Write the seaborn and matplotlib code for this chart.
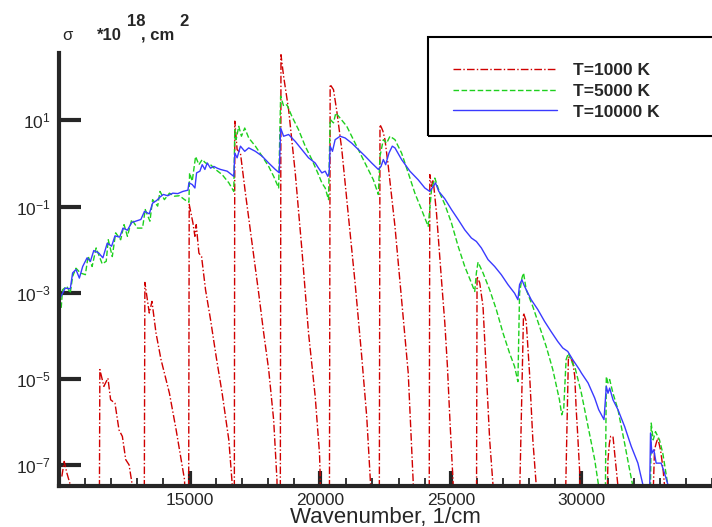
import numpy as np
import pandas as pd
import matplotlib
matplotlib.use("Agg")
import matplotlib.pyplot as plt
import matplotlib.ticker as ticker
from matplotlib.patches import Rectangle
import seaborn as sns

# wavenumber (1/cm) and log10(sigma, 1e-18 cm^2)
wn_1000 = [10109, 10199, 10302, 10431, 10450,
           11540, 11564, 11718, 11873, 11976, 12143, 12297, 12426, 12555, 12683, 12812, 12860,
           13260, 13288, 13456, 13559, 13713, 13906, 14228, 14485, 14807, 14870,
           14960, 14985, 15127, 15203, 15254, 15356, 15458, 15610, 15801, 16017, 16246, 16501, 16628, 16660,
           16710, 16730, 16819, 16946, 17137, 17391, 17645, 17836, 18027, 18218, 18345, 18380,
           18470, 18498, 18599, 18790, 19045, 19299, 19553, 19808, 19973, 20000, 20040,
           20350, 20381, 20509, 20636, 20827, 21081, 21335, 21590, 21781, 21933, 21960,
           22260, 22289, 22353, 22400, 22480, 22607, 22862, 23116, 23370, 23562, 23590,
           24170, 24197, 24261, 24325, 24452, 24643, 24771, 24870, 24962, 25089, 25110,
           25980, 26005, 26107, 26234, 26361, 26488, 26615, 26640,
           27590, 27785, 27887, 28014, 28141, 28269, 28290,
           29350, 29503, 29668, 29746, 29800, 29848, 29937, 29970,
           30940, 31018, 31070, 31120, 31209, 31298, 31400, 31420,
           32680, 32799, 32862, 32926, 33028, 33116, 33180, 33200]
lg_1000 = [-7.26, -6.91, -7.18, -7.45, -9,
           -9, -4.78, -5.17, -4.98, -5.48, -5.56, -6.18, -6.33, -6.87, -6.99, -7.49, -9,
           -9, -2.76, -3.47, -3.20, -3.93, -4.55, -5.33, -6.18, -7.34, -9,
           -9, -0.95, -1.38, -1.69, -1.42, -2.08, -2.16, -2.93, -3.62, -4.48, -5.33, -6.41, -7.41, -9,
           -9, 0.98, 0.32, 0.24, -0.69, -1.85, -3.01, -3.93, -4.78, -5.95, -7.34, -9,
           -9, 2.52, 2.02, 1.25, -0.22, -2.00, -3.93, -5.40, -6.72, -7.26, -9,
           -9, 1.83, 1.71, 1.21, 0.32, -1.23, -2.77, -4.48, -5.87, -7.49, -9,
           -9, 0.90, 0.82, 0.75, 0.55, -0.07, -1.46, -3.16, -4.86, -7.41, -9,
           -9, -0.26, -0.53, -0.38, -1.15, -2.70, -3.70, -4.70, -5.90, -7.41, -9,
           -9, -2.62, -2.77, -3.32, -4.86, -6.41, -7.45, -9,
           -9, -3.47, -3.66, -4.86, -6.41, -7.45, -9,
           -9, -4.48, -4.59, -4.94, -5.70, -6.18, -7.18, -9,
           -9, -6.87, -6.50, -6.33, -6.33, -6.87, -7.49, -9,
           -9, -6.64, -6.49, -6.37, -6.64, -7.03, -7.45, -9]

wn_5000 = [10084, 10135, 10302, 10431, 10521, 10650, 10817, 11010, 11113, 11268, 11422, 11654,
           11808, 11885, 12040, 12169, 12362, 12490, 12619, 12786, 13005, 13198, 13301, 13481,
           13584, 13777, 13867, 14035, 14228, 14421, 14614, 14807, 14974, 15000, 15101, 15229,
           15356, 15483, 15610, 15801, 15992, 16246, 16501, 16691, 16730, 16780, 16882, 16984,
           17111, 17264, 17518, 17772, 18027, 18218, 18409, 18485, 18599, 18726, 18917, 19172,
           19426, 19681, 19935, 20063, 20191, 20318, 20381, 20509, 20598, 20763, 21017, 21272,
           21526, 21781, 22035, 22226, 22289, 22417, 22544, 22671, 22862, 23116, 23370, 23625,
           23879, 24134, 24261, 24388, 24579, 24770, 25025, 25280, 25534, 25789, 25916, 25979,
           26043, 26234, 26488, 26743, 26997, 27251, 27442, 27569, 27633, 27722, 27785, 27887,
           28141, 28396, 28650, 28905, 29159, 29248, 29325, 29414, 29503, 29668, 29746, 30000,
           30255, 30509, 30662, 30750, 30900, 30954, 31018, 31082, 31209, 31400, 31654, 31845,
           31972, 32050, 32620, 32672, 32748, 32837, 32989, 33116, 33307, 33350]
lg_5000 = [-3.35, -2.93, -2.85, -3.01, -2.62, -2.43, -2.54, -2.58, -2.15, -2.39, -1.96, -2.33,
           -2.27, -1.77, -2.16, -1.61, -1.77, -1.42, -1.69, -1.30, -1.50, -1.50, -1.07, -1.34,
           -0.84, -0.99, -0.65, -0.84, -0.69, -0.76, -0.75, -0.84, -0.90, -0.22, -0.41, 0.16,
           -0.03, 0.09, 0.01, -0.03, -0.14, -0.26, -0.45, -0.65, 0.78, 0.55, 0.86, 0.63,
           0.82, 0.59, 0.40, 0.17, -0.07, -0.30, -0.57, 1.56, 1.33, 1.36, 1.09, 0.78,
           0.40, 0.09, -0.26, -0.45, -0.57, -0.84, 1.02, 0.94, 1.17, 1.05, 0.86, 0.55,
           0.24, -0.07, -0.38, -0.72, 0.17, 0.55, 0.47, 0.63, 0.55, 0.24, -0.22, -0.69,
           -1.07, -1.46, -0.61, -0.34, -0.69, -0.95, -1.38, -1.92, -2.39, -2.77, -2.97, -2.54,
           -2.29, -2.54, -2.93, -3.39, -3.93, -4.40, -4.71, -5.06, -3.01, -2.66, -2.54, -2.93,
           -3.32, -3.78, -4.24, -4.78, -5.48, -5.83, -5.67, -4.55, -4.40, -4.65, -4.71, -5.33,
           -6.10, -6.87, -7.49, -9, -9, -4.94, -5.09, -5.01, -5.33, -5.71, -6.49, -7.10,
           -7.49, -9, -9, -6.02, -6.41, -6.22, -6.41, -6.72, -7.45, -9]

wn_10000 = [10045, 10238, 10431, 10521, 10650, 10779, 10907, 11075, 11203, 11332, 11525, 11680,
            11847, 12014, 12143, 12323, 12452, 12619, 12786, 12941, 13134, 13275, 13456, 13584,
            13739, 13867, 13996, 14163, 14356, 14549, 14742, 14936, 14974, 15101, 15203, 15267,
            15394, 15483, 15585, 15674, 15801, 15928, 16055, 16183, 16437, 16691, 16730, 16819,
            16946, 17111, 17264, 17518, 17772, 18027, 18281, 18434, 18485, 18599, 18790, 19045,
            19299, 19553, 19808, 19936, 20063, 20191, 20292, 20343, 20381, 20470, 20572, 20763,
            20954, 21208, 21463, 21717, 21971, 22226, 22328, 22417, 22506, 22633, 22760, 22862,
            23116, 23434, 23752, 24006, 24197, 24287, 24414, 24541, 24770, 25025, 25280, 25534,
            25789, 25979, 26170, 26425, 26679, 26933, 27188, 27442, 27569, 27633, 27722, 27824,
            28078, 28333, 28587, 28841, 29096, 29287, 29478, 29668, 29923, 30000, 30255, 30509,
            30662, 30865, 30954, 31018, 31082, 31209, 31400, 31654, 31908, 32163, 32354, 32420,
            32580, 32646, 32697, 32773, 32862, 33053, 33180, 33333, 33380]
lg_10000 = [-3.12, -2.89, -2.91, -2.54, -2.46, -2.66, -2.39, -2.19, -2.27, -2.02, -2.08, -2.19,
            -1.85, -1.92, -1.68, -1.71, -1.50, -1.55, -1.37, -1.34, -1.30, -1.11, -1.17, -0.92,
            -0.86, -0.78, -0.72, -0.75, -0.69, -0.70, -0.65, -0.62, -0.45, -0.49, -0.57, -0.22,
            -0.18, -0.03, -0.14, 0.01, -0.11, -0.07, -0.11, -0.14, -0.18, -0.30, 0.24, 0.13,
            0.40, 0.28, 0.36, 0.28, 0.17, 0.01, -0.14, -0.22, 0.82, 0.63, 0.67, 0.51,
            0.32, 0.13, 0.01, -0.11, -0.22, -0.18, -0.30, -0.22, 0.40, 0.28, 0.55, 0.63,
            0.59, 0.47, 0.32, 0.17, 0.01, -0.14, -0.07, 0.09, -0.03, 0.24, 0.40, 0.36,
            0.09, -0.18, -0.38, -0.57, -0.65, -0.57, -0.45, -0.65, -0.82, -1.07, -1.30, -1.54,
            -1.73, -1.81, -1.96, -2.23, -2.39, -2.58, -2.81, -3.01, -3.16, -2.81, -2.70, -2.85,
            -3.16, -3.39, -3.66, -3.90, -4.13, -4.28, -4.36, -4.55, -4.78, -4.86, -5.09, -5.44,
            -5.71, -5.94, -5.17, -5.33, -5.21, -5.48, -5.71, -6.10, -6.56, -6.95, -7.45, -9,
            -9, -6.25, -6.72, -6.64, -6.95, -6.95, -7.18, -7.49, -9]

labels = ["T=1000 K", "T=5000 K", "T=10000 K"]
ytick_vals = [1e1, 1e-1, 1e-3, 1e-5, 1e-7]
xtick_vals = [15000, 20000, 25000, 30000]

sns.set_style("ticks")
plt.rcParams['font.family'] = ['Liberation Sans', 'DejaVu Sans']

fig = plt.figure(figsize=(7.12, 5.27), dpi=100)
W, H = 712, 527
ax = fig.add_axes([59 / W, 41 / H, 653 / W, 433 / H])

series = [(wn_1000, lg_1000, '#d00000', (0, (5.5, 1.6, 1, 1.6))),
          (wn_5000, lg_5000, '#1ed01e', (0, (4, 1.8))),
          (wn_10000, lg_10000, '#3a3aff', '-')]
for (wn, lg, col, ls), lab in zip(series, labels):
    df = pd.DataFrame({'wn': wn, 'sigma': 10.0 ** np.array(lg)})
    sns.lineplot(data=df, x='wn', y='sigma', estimator=None, sort=False,
                 color=col, linestyle=ls, lw=1.0, ax=ax, label=lab)

ax.set_yscale('log')
ax.set_xlim(10000, 35000)
ax.set_ylim(10 ** -7.48, 10 ** 2.56)
ax.set_xlabel('')
ax.set_ylabel('')

ax.set_yticks(ytick_vals)
ax.yaxis.set_major_formatter(ticker.LogFormatterSciNotation())
ax.yaxis.set_minor_locator(ticker.NullLocator())
ax.set_xticks(xtick_vals)
ax.xaxis.set_minor_locator(ticker.MultipleLocator(1000))

ax.tick_params(axis='y', direction='in', length=16, width=3, pad=6, labelsize=12.5)
ax.tick_params(axis='x', which='major', direction='in', length=11, width=3, pad=5, labelsize=12.5)
ax.tick_params(axis='x', which='minor', direction='in', length=6, width=1.3)

sns.despine(ax=ax)
for s in ['left', 'bottom']:
    ax.spines[s].set_linewidth(3)

fig.text(385 / W, 1 - 517 / H, 'Wavenumber, 1/cm', ha='center', va='center', fontsize=16)

# y-axis label at top left
fig.text(67 / W, 1 - 35 / H, 'σ', ha='center', va='center', fontsize=12)
fig.text(97 / W, 1 - 35 / H, '*10', ha='left', va='center', fontsize=12, fontweight='bold')
fig.text(127 / W, 1 - 21 / H, '18', ha='left', va='center', fontsize=12, fontweight='bold')
fig.text(141 / W, 1 - 35 / H, ', cm', ha='left', va='center', fontsize=12, fontweight='bold')
fig.text(179 / W, 1 - 21 / H, '2', ha='left', va='center', fontsize=12, fontweight='bold')

# legend box
ax.get_legend().remove()
fig.add_artist(Rectangle((428 / W, 1 - 136 / H), 0.5, 99 / H, transform=fig.transFigure,
                         fill=False, ec='black', lw=1.5, clip_on=False))
fig.legend(handles=ax.get_lines()[:3], labels=labels, loc='upper left',
           bbox_to_anchor=(453 / W, 1 - 63 / H), bbox_transform=fig.transFigure,
           frameon=False, borderpad=0, borderaxespad=0, handlelength=6.0, handletextpad=0.9,
           labelspacing=0.32, prop={'weight': 'bold', 'size': 12.5})

fig.savefig('out.png', dpi=100)
